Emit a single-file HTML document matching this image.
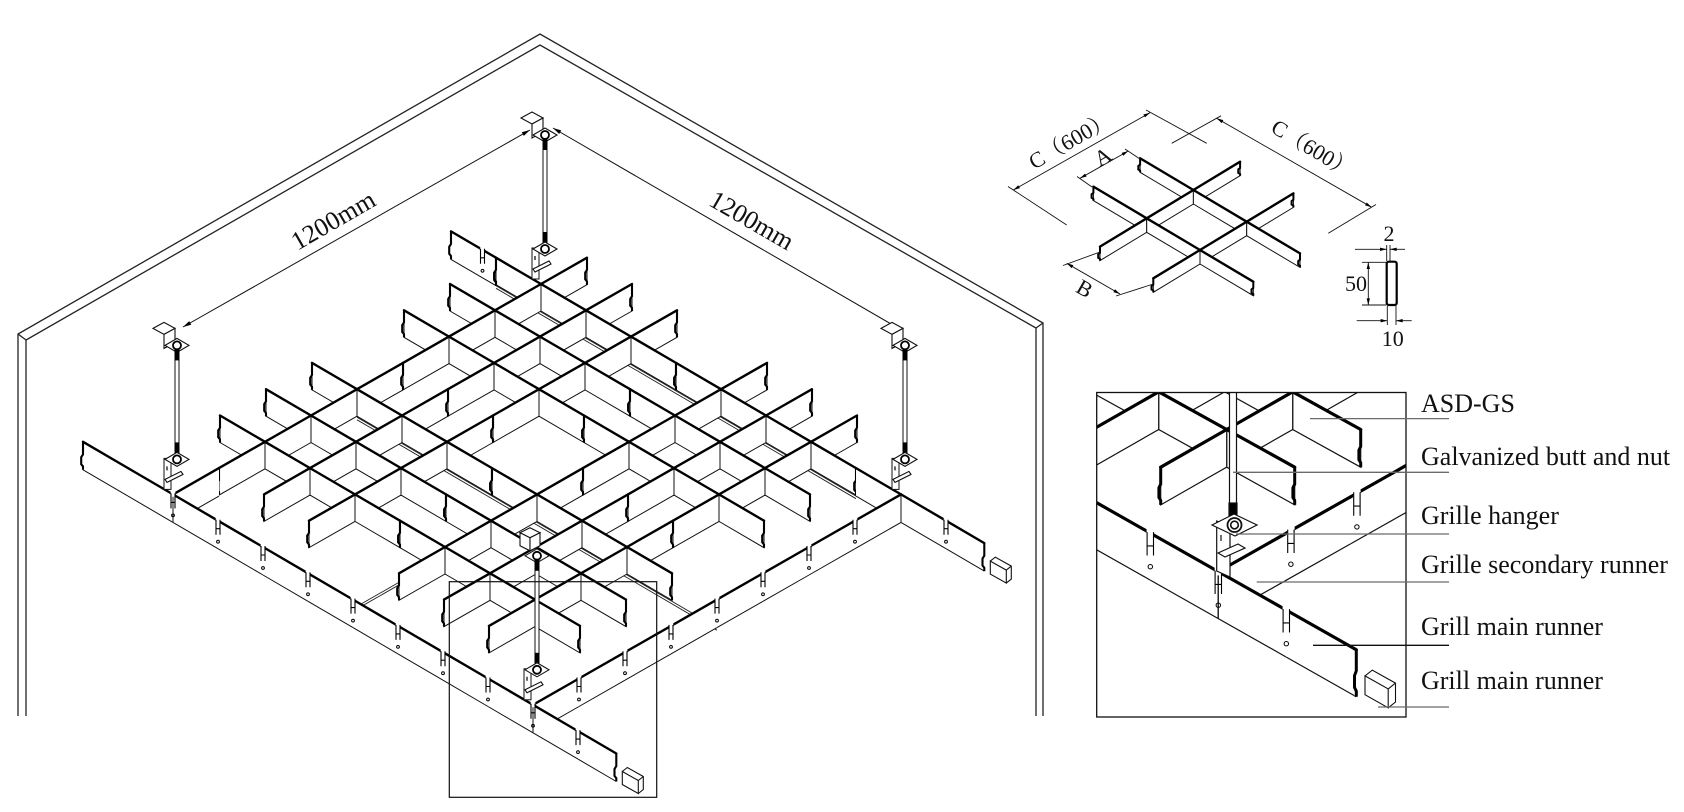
<!DOCTYPE html>
<html>
<head>
<meta charset="utf-8">
<style>
html,body{margin:0;padding:0;background:#fff;width:1684px;height:812px;overflow:hidden;}
svg{display:block;}
text{font-family:"Liberation Serif","Noto Serif CJK SC",serif;fill:#111;}
</style>
</head>
<body>
<svg id="svg" xmlns="http://www.w3.org/2000/svg" width="1684" height="812" viewBox="0 0 1684 812">
<defs>
  <marker id="ah" viewBox="0 0 10 6" refX="10" refY="3" markerWidth="10" markerHeight="5" markerUnits="userSpaceOnUse" orient="auto-start-reverse"><path d="M0,0.5 L10,3 L0,5.5Z" fill="#000"/></marker>
  <marker id="ahs" viewBox="0 0 10 6" refX="10" refY="3" markerWidth="8" markerHeight="4" markerUnits="userSpaceOnUse" orient="auto-start-reverse"><path d="M0,0.5 L10,3 L0,5.5Z" fill="#000"/></marker>
  <clipPath id="insetClip"><rect x="1096.7" y="392.5" width="309.3" height="324.5"/></clipPath>
</defs>
<rect x="0" y="0" width="1684" height="812" fill="#fff"/>

<!-- walls -->
<g fill="none" stroke="#222" stroke-width="1.3">
  <polyline points="18,716 18,334 540,34 1043,323 1043,716"/>
  <polyline points="26,716 26,340 540,45 1036,328 1036,716"/>
  <line x1="18" y1="334" x2="26" y2="340"/>
  <line x1="1043" y1="323" x2="1036" y2="328"/>
</g>

<!-- 1200mm dimensions -->
<g stroke="#111" stroke-width="1" fill="none">
  <line x1="530" y1="130" x2="183" y2="327" marker-start="url(#ah)" marker-end="url(#ah)"/>
  <line x1="553" y1="128" x2="898" y2="328" marker-start="url(#ah)" marker-end="url(#ah)"/>
</g>
<text x="333" y="229" font-size="26" text-anchor="middle" transform="rotate(-30 333 220)">1200mm</text>
<text x="752" y="229" font-size="26" text-anchor="middle" transform="rotate(30 752 220)">1200mm</text>

<!-- main drawing (generated) -->
<g id="hidden"></g>
<g id="main"></g>
<g id="mainTop"></g>
<g id="hangers"></g>

<!-- detail frame in main drawing -->
<rect x="449.3" y="581.7" width="207.4" height="215.6" fill="none" stroke="#111" stroke-width="1.2"/>

<!-- small module diagram -->
<g id="small"></g>
<g stroke="#111" stroke-width="0.9" fill="none">
  <line x1="1013.3" y1="190" x2="1150" y2="112.7" marker-start="url(#ahs)" marker-end="url(#ahs)"/>
  <line x1="1216.7" y1="118.3" x2="1371.7" y2="207.3" marker-start="url(#ahs)" marker-end="url(#ahs)"/>
  <line x1="1080" y1="178.3" x2="1128.3" y2="151" marker-start="url(#ahs)" marker-end="url(#ahs)"/>
  <line x1="1066.7" y1="263.3" x2="1120" y2="294" marker-start="url(#ahs)" marker-end="url(#ahs)"/>
  <line x1="1008" y1="186.5" x2="1066.7" y2="225"/>
  <line x1="1146" y1="110" x2="1206.7" y2="143.3"/>
  <line x1="1221" y1="115.8" x2="1171.7" y2="143.3"/>
  <line x1="1376" y1="204.5" x2="1328.3" y2="233.3"/>
  <line x1="1125" y1="149" x2="1140" y2="159"/>
  <line x1="1077" y1="176.5" x2="1092" y2="187"/>
  <line x1="1100" y1="252" x2="1063" y2="265.5"/>
  <line x1="1153.3" y1="284" x2="1116" y2="296"/>
  <!-- section dims -->
  <line x1="1368.3" y1="262.3" x2="1368.3" y2="305" marker-start="url(#ahs)" marker-end="url(#ahs)"/>
  <line x1="1362" y1="262.3" x2="1386" y2="262.3"/>
  <line x1="1362" y1="305" x2="1386" y2="305"/>
  <line x1="1355" y1="249.3" x2="1386.7" y2="249.3" marker-end="url(#ahs)"/>
  <line x1="1405" y1="249.3" x2="1390" y2="249.3" marker-end="url(#ahs)"/>
  <line x1="1386.7" y1="245" x2="1386.7" y2="261"/>
  <line x1="1390" y1="245" x2="1390" y2="261"/>
  <line x1="1356.7" y1="320.7" x2="1387.3" y2="320.7" marker-end="url(#ahs)"/>
  <line x1="1411.7" y1="320.7" x2="1396" y2="320.7" marker-end="url(#ahs)"/>
  <line x1="1387.3" y1="306" x2="1387.3" y2="325"/>
  <line x1="1396" y1="306" x2="1396" y2="325"/>
</g>
<rect x="1386.7" y="261.7" width="10" height="43.3" rx="2" fill="#fff" stroke="#000" stroke-width="2.2"/>
<text x="1070" y="148" font-size="22" text-anchor="middle" transform="rotate(-30 1070 140)">C（600）</text>
<text x="1313" y="156" font-size="22" text-anchor="middle" transform="rotate(31 1313 148)">C（600）</text>
<text x="1103" y="164" font-size="22" text-anchor="middle" transform="rotate(-30 1103 157)">A</text>
<text x="1085" y="296" font-size="22" text-anchor="middle" transform="rotate(30 1085 288)">B</text>
<text x="1389" y="241" font-size="22" text-anchor="middle">2</text>
<text x="1356" y="291" font-size="22" text-anchor="middle">50</text>
<text x="1392.7" y="346" font-size="22" text-anchor="middle">10</text>

<!-- inset detail -->
<g clip-path="url(#insetClip)">
  <g id="inset"></g>
  <g id="insetTop"></g>
  <g fill="#fff" stroke="#111" stroke-width="1.2">
    <rect x="1229.5" y="380" width="7" height="135"/>
    <rect x="1229" y="503" width="8" height="17" fill="#000"/>
    <polygon points="1216.7,521 1230,527 1230,577 1216.7,571"/>
    <polygon points="1212,525 1234,514 1257,525 1235,536"/>
    <circle cx="1234.5" cy="525" r="7" fill="none" stroke-width="1.8"/>
    <circle cx="1234.5" cy="525" r="3.8" fill="none" stroke-width="1.6"/>
    <polygon points="1218,553 1238,544 1245,548 1225,557"/>
    <line x1="1221" y1="535" x2="1221" y2="541"/>
  </g>
  <g id="insetCap"></g>
</g>
<rect x="1096.7" y="392.5" width="309.3" height="324.5" fill="none" stroke="#111" stroke-width="1.3"/>

<!-- leaders -->
<g stroke="#6a6a6a" stroke-width="1.3">
  <line x1="1310" y1="418.6" x2="1449" y2="418.6"/>
  <line x1="1233" y1="472.3" x2="1449" y2="472.3"/>
  <line x1="1236" y1="534" x2="1449" y2="534"/>
  <line x1="1256.7" y1="582" x2="1449" y2="582"/>
  <line x1="1313" y1="645.3" x2="1449" y2="645.3" stroke="#111"/>
  <line x1="1378" y1="707" x2="1449" y2="707"/>
</g>

<g font-size="26">
  <text x="1421" y="412">ASD-GS</text>
  <text x="1421" y="465">Galvanized butt and nut</text>
  <text x="1421" y="524">Grille hanger</text>
  <text x="1421" y="573">Grille secondary runner</text>
  <text x="1421" y="635">Grill main runner</text>
  <text x="1421" y="689">Grill main runner</text>
</g>
</svg>

<script>
(function(){
var NS='http://www.w3.org/2000/svg';
function el(p,t,a){var e=document.createElementNS(NS,t);for(var k in a)e.setAttribute(k,a[k]);p.appendChild(e);return e;}
function f(n){return (Math.round(n*10)/10).toString();}
function pts(a){return a.map(function(p){return f(p[0])+','+f(p[1]);}).join(' ');}
function L(O,U,V){return function(a,b){return [O[0]+a*U[0]+b*V[0],O[1]+a*U[1]+b*V[1]];};}
function add(p,dx,dy){return [p[0]+dx,p[1]+dy];}
function has(arr,v){if(!arr)return false;for(var i=0;i<arr.length;i++){if(Math.abs(arr[i]-v)<1e-6)return true;}return false;}

function build(P,list,h,segs,runner){
  list.forEach(function(m){
    var ts=[m.from];
    for(var k=Math.ceil(m.from+1e-6);k<m.to-1e-6;k++)ts.push(k);
    ts.push(m.to);
    for(var i=0;i<ts.length-1;i++){
      var t1=ts[i],t2=ts[i+1];
      var A=m.dir==='u'?P(t1,m.fixed):P(m.fixed,t1);
      var B=m.dir==='u'?P(t2,m.fixed):P(m.fixed,t2);
      segs.push({p1:A,p2:B,h:h,e1:has(m.ends,t1),e2:has(m.ends,t2),
                 v1:has(m.vends,t1),v2:has(m.vends,t2),r:!!runner});
    }
  });
}
function endMark(g,p,h,w){
  el(g,'polyline',{points:pts([p,add(p,0,h*0.45),add(p,-1.8,h*0.55),add(p,-1.8,h*0.8),add(p,0,h*0.88),add(p,0,h)]),fill:'none',stroke:'#000','stroke-width':w});
}
function render(g,gt,segs,o){
  segs.sort(function(s,t){return (s.p1[1]+s.p2[1])-(t.p1[1]+t.p2[1]);});
  segs.forEach(function(s){
    var q1=add(s.p1,0,s.h),q2=add(s.p2,0,s.h);
    el(g,'polygon',{points:pts([s.p1,s.p2,q2,q1]),fill:'#fff'});
    if(s.r){
      el(g,'line',{x1:f(q1[0]),y1:f(q1[1]),x2:f(q2[0]),y2:f(q2[1]),stroke:'#111','stroke-width':o.thin});
      if(s.v1)el(g,'line',{x1:f(s.p1[0]),y1:f(s.p1[1]),x2:f(q1[0]),y2:f(q1[1]),stroke:'#111','stroke-width':o.thin});
      if(s.v2)el(g,'line',{x1:f(s.p2[0]),y1:f(s.p2[1]),x2:f(q2[0]),y2:f(q2[1]),stroke:'#111','stroke-width':o.thin});
    }else{
      el(g,'polyline',{points:pts([s.p1,q1,q2,s.p2]),fill:'none',stroke:'#111','stroke-width':o.thin});
    }
    if(s.e1)endMark(g,s.p1,s.h,o.endw);
    if(s.e2)endMark(g,s.p2,s.h,o.endw);
  });
  segs.forEach(function(s){
    el(gt,'line',{x1:f(s.p1[0]),y1:f(s.p1[1]),x2:f(s.p2[0]),y2:f(s.p2[1]),stroke:'#000','stroke-width':o.top,'stroke-linecap':'round'});
  });
}
function slot(g,S,sc){
  el(g,'rect',{x:f(S[0]-2.3*sc),y:f(S[1]-2.6*sc),width:f(4.6*sc),height:f(5*sc),fill:'#fff'});
  el(g,'path',{d:'M'+f(S[0]-2*sc)+' '+f(S[1]-1)+'V'+f(S[1]+14*sc)+'M'+f(S[0]+2*sc)+' '+f(S[1]-1)+'V'+f(S[1]+14*sc)+'M'+f(S[0]-2*sc)+' '+f(S[1]+8*sc)+'H'+f(S[0]+2*sc),stroke:'#000','stroke-width':1.1,fill:'none'});
  el(g,'circle',{cx:f(S[0]),cy:f(S[1]+21*sc),r:f(1.4*sc),fill:'none',stroke:'#000','stroke-width':1});
}
function cap(g,E,s){
  function P(dx,dy){return add(E,dx*s,dy*s);}
  el(g,'polygon',{points:pts([P(6,18),P(11,14),P(27,23),P(27,36),P(22,40),P(6,31)]),fill:'#fff',stroke:'none'});
  el(g,'polygon',{points:pts([P(6,18),P(22,27),P(22,40),P(6,31)]),fill:'#fff',stroke:'#111','stroke-width':1.1});
  el(g,'polyline',{points:pts([P(6,18),P(11,14),P(27,23),P(27,36),P(22,40)]),fill:'none',stroke:'#111','stroke-width':1.1});
  el(g,'line',{x1:f(P(22,27)[0]),y1:f(P(22,27)[1]),x2:f(P(27,23)[0]),y2:f(P(27,23)[1]),stroke:'#111','stroke-width':1.1});
}

/* ---------- main drawing ---------- */
var Pm=L([541,284],[45,26.3],[46,-26.3]);
var gH=document.getElementById('hidden');
function hid(A,B,dy){
  [0,2.6].forEach(function(o){
    el(gH,'line',{x1:f(A[0]),y1:f(A[1]+dy+o),x2:f(B[0]),y2:f(B[1]+dy+o),stroke:'#222','stroke-width':0.9});
  });
}
hid(Pm(-1,0),Pm(7,0),28);
hid(Pm(0,-4),Pm(8,-4),28);
hid(Pm(0,-8),Pm(0,0),9);
hid(Pm(4,-8),Pm(4,0),9);

var segs=[];
var ml=[];
[0,-1,-2,-4,-5,-6].forEach(function(b){ml.push({dir:'u',fixed:b,from:-1,to:7,ends:[-1,3,7]});});
[0,1,2,4,5,6].forEach(function(a){ml.push({dir:'v',fixed:a,from:-7,to:1,ends:[-7,-3,1]});});
build(Pm,ml,27,segs,false);
build(Pm,[{dir:'u',fixed:-8,from:-2,to:9.85,ends:[-2,9.85],vends:[0,8]},
          {dir:'u',fixed:0,from:-2,to:-1,ends:[-2,-1]},
          {dir:'u',fixed:0,from:7,to:9.85,ends:[9.85],vends:[8]},
          {dir:'v',fixed:8,from:-8,to:0,ends:[],vends:[-8,0]},
          {dir:'v',fixed:0,from:-8,to:-7,ends:[],vends:[-8]}],28,segs,true);
var gM=document.getElementById('main'),gMT=document.getElementById('mainTop');
render(gM,gMT,segs,{thin:1,top:2.4,endw:2.1});
for(var a=0;a<=9;a++)slot(gMT,Pm(a,-8),1);
for(var b=-7;b<=-1;b++)slot(gMT,Pm(8,b),1);
slot(gMT,Pm(9,0),1);
slot(gMT,Pm(-1.3,0),1);
cap(gMT,Pm(9.85,-8),1);
cap(gMT,Pm(9.85,0),1);

// hangers
var gHg=document.getElementById('hangers');
function hanger(J,cube){
  var x=J[0]+4,y=J[1];
  var st={fill:'#fff',stroke:'#111','stroke-width':1.1};
  function poly(arr){var a={points:pts(arr)};for(var k in st)a[k]=st[k];el(gHg,'polygon',a);}
  if(!cube){
    poly([[x-24,y-166],[x-13,y-172],[x-2,y-166],[x-13,y-160]]);
    poly([[x-13,y-160],[x-2,y-166],[x-2,y-152],[x-13,y-146]]);
  }else{
    poly([[x-17,y-172],[x-7,y-177],[x+3,y-172],[x-7,y-167]]);
    poly([[x-17,y-172],[x-7,y-167],[x-7,y-154],[x-17,y-159]]);
    poly([[x-7,y-167],[x+3,y-172],[x+3,y-159],[x-7,y-154]]);
  }
  poly([[x-12,y-149],[x,y-156],[x+12,y-149],[x,y-142]]);
  el(gHg,'circle',{cx:f(x),cy:f(y-149),r:4,fill:'#fff',stroke:'#000','stroke-width':1.8});
  el(gHg,'rect',{x:f(x-2),y:f(y-145),width:4,height:108,fill:'#fff',stroke:'#111','stroke-width':1});
  el(gHg,'rect',{x:f(x-2.5),y:f(y-146),width:5,height:12,fill:'#000'});
  el(gHg,'rect',{x:f(x-2.5),y:f(y-52),width:5,height:14,fill:'#000'});
  el(gHg,'rect',{x:f(x-13),y:f(y-36),width:7,height:31,fill:'#fff',stroke:'#111','stroke-width':1});
  poly([[x-12,y-35],[x,y-42],[x+12,y-35],[x,y-28]]);
  el(gHg,'circle',{cx:f(x),cy:f(y-35),r:4,fill:'#fff',stroke:'#000','stroke-width':1.8});
  poly([[x-12,y-15],[x+4,y-23],[x+6,y-20],[x-10,y-12]]);
  el(gHg,'line',{x1:f(x-10),y1:f(y-28),x2:f(x-10),y2:f(y-24),stroke:'#000','stroke-width':1.2});
}
hanger(Pm(0,0),false);
hanger(Pm(0,-8),false);
hanger(Pm(8,0),false);
hanger(Pm(8,-8),true);

/* ---------- small module ---------- */
var Ps=L([1146.7,218.3],[53.3,31.7],[46.7,-28.3]);
var ss=[];
build(Ps,[{dir:'u',fixed:0,from:-1,to:2,ends:[-1,2]},{dir:'u',fixed:1,from:-1,to:2,ends:[-1,2]},
          {dir:'v',fixed:0,from:-1,to:2,ends:[-1,2]},{dir:'v',fixed:1,from:-1,to:2,ends:[-1,2]}],14,ss,false);
var gS=document.getElementById('small');
render(gS,gS,ss,{thin:1,top:2.4,endw:2});

/* ---------- inset ---------- */
var Pi=L([1226.7,429.5],[68,37.7],[66,-37.7]);
var Pr=L([1218.3,571.6],[68,38.5],[66,-37.3]);
var is=[];
build(Pi,[{dir:'u',fixed:0,from:-3,to:1,ends:[1]},{dir:'u',fixed:1,from:-3,to:1,ends:[1]},
          {dir:'v',fixed:0,from:-1,to:3,ends:[-1]},{dir:'v',fixed:-1,from:-2,to:3,ends:[]}],37.7,is,false);
build(Pr,[{dir:'u',fixed:0,from:-2.4,to:2.03,ends:[2.03],vends:[0]},
          {dir:'v',fixed:0,from:0,to:3,ends:[],vends:[0]}],47,is,true);
var gI=document.getElementById('inset'),gIT=document.getElementById('insetTop');
render(gI,gIT,is,{thin:1.2,top:3.2,endw:3});
[Pr(-1,0),Pr(0,0),Pr(1,0),Pr(0,1.1),Pr(0,2.1)].forEach(function(S){slot(gIT,S,1.6);});
cap(document.getElementById('insetCap'),Pr(2.03,0),1.45);
})();
</script>
</body>
</html>
